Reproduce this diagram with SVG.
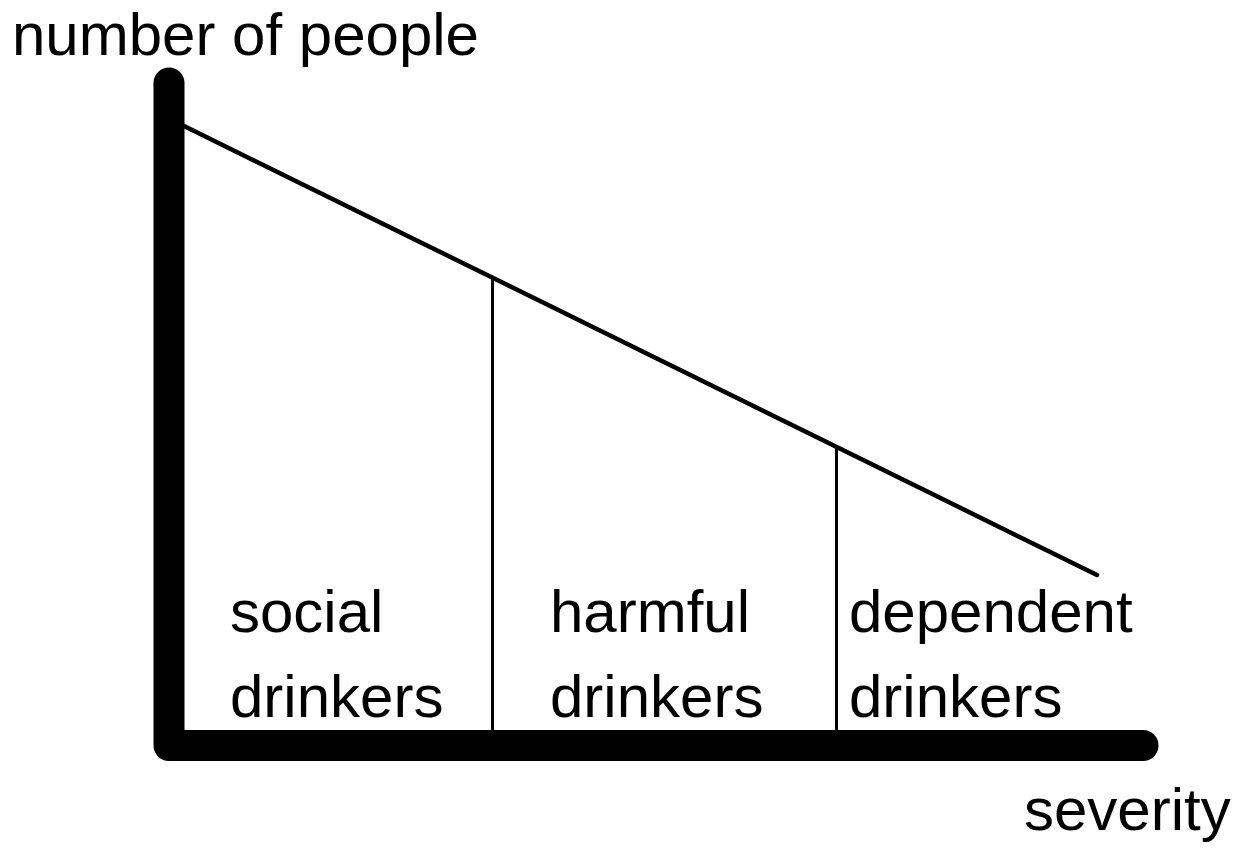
<svg xmlns="http://www.w3.org/2000/svg" width="1239" height="848" viewBox="0 0 1239 848">
  <style>
    .axis { fill: none; stroke: #000; stroke-width: 31; stroke-linecap: round; stroke-linejoin: round; }
    .trend { fill: none; stroke: #000; stroke-width: 4.5; stroke-linecap: round; }
    .divider { fill: none; stroke: #000; stroke-width: 3; }
    .label { font-family: "Liberation Sans", Arial, sans-serif; font-size: 60px; fill: #000; }
  </style>
  <rect width="1239" height="848" fill="#fff"/>

  <g id="connectors">
    <!-- axes -->
    <path id="axes" class="axis" d="M169,83 V745.5 H1143"/>
    <!-- declining curve -->
    <line id="trend" class="trend" x1="184" y1="126" x2="1097" y2="575"/>
    <!-- group boundaries -->
    <line class="divider" x1="492.5" y1="277" x2="492.5" y2="731"/>
    <line class="divider" x1="836.5" y1="447" x2="836.5" y2="731"/>
  </g>

  <g id="y-axis-label">
    <text class="label" x="12" y="55">number of people</text>
  </g>
  <g id="x-axis-label">
    <text class="label" x="1024" y="830">severity</text>
  </g>

  <g id="social">
    <text class="label" x="230" y="632">social</text>
    <text class="label" x="230" y="717">drinkers</text>
  </g>
  <g id="harmful">
    <text class="label" x="550" y="632">harmful</text>
    <text class="label" x="550" y="717">drinkers</text>
  </g>
  <g id="dependent">
    <text class="label" x="849" y="632">dependent</text>
    <text class="label" x="849" y="717">drinkers</text>
  </g>
</svg>
